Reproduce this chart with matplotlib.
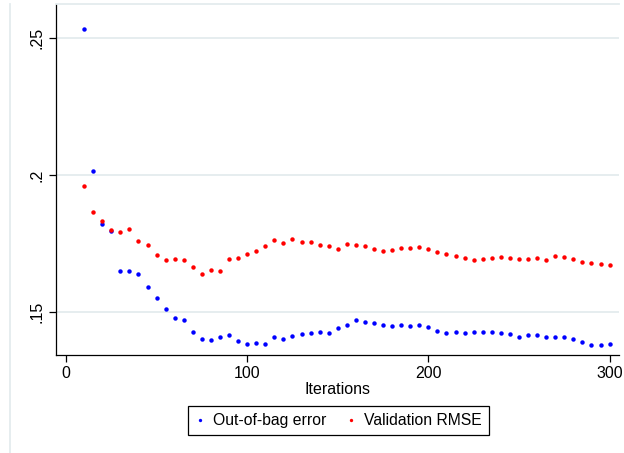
import matplotlib.pyplot as plt
from matplotlib.lines import Line2D
import numpy as np

plt.rcParams['font.family'] = ['Liberation Sans', 'DejaVu Sans']

# Iterations (every 5 from 10 to 300)
iterations = list(range(10, 301, 5))

# Out-of-bag error
oob_error = [0.2531, 0.2015, 0.1820, 0.1795, 0.1650, 0.1649, 0.1639, 0.1593, 0.1551, 0.1512,
             0.1479, 0.1472, 0.1428, 0.1403, 0.1399, 0.1409, 0.1418, 0.1397, 0.1384, 0.1388,
             0.1383, 0.1411, 0.1404, 0.1415, 0.1422, 0.1426, 0.1427, 0.1426, 0.1443, 0.1455,
             0.1472, 0.1464, 0.1460, 0.1454, 0.1451, 0.1454, 0.1449, 0.1453, 0.1447, 0.1431,
             0.1426, 0.1429, 0.1426, 0.1429, 0.1430, 0.1430, 0.1426, 0.1420, 0.1411, 0.1418,
             0.1418, 0.1409, 0.1411, 0.1411, 0.1404, 0.1393, 0.1382, 0.1382, 0.1386]

# Validation RMSE
val_rmse = [0.1961, 0.1865, 0.1831, 0.1801, 0.1791, 0.1803, 0.1760, 0.1745, 0.1709, 0.1689,
            0.1695, 0.1692, 0.1665, 0.1641, 0.1654, 0.1650, 0.1695, 0.1699, 0.1712, 0.1723,
            0.1740, 0.1765, 0.1751, 0.1766, 0.1756, 0.1756, 0.1745, 0.1740, 0.1731, 0.1749,
            0.1745, 0.1743, 0.1732, 0.1724, 0.1728, 0.1733, 0.1735, 0.1738, 0.1731, 0.1721,
            0.1713, 0.1705, 0.1699, 0.1692, 0.1695, 0.1699, 0.1702, 0.1698, 0.1693, 0.1693,
            0.1698, 0.1692, 0.1704, 0.1700, 0.1694, 0.1684, 0.1681, 0.1677, 0.1673]

x_ticks = [0, 100, 200, 300]
y_ticks = [0.15, 0.2, 0.25]
y_labels = ['.15', '.2', '.25']

W, H = 624, 453
fig = plt.figure(figsize=(W / 100, H / 100), dpi=100)
ax = fig.add_axes([56 / W, 1 - 355 / H, (619 - 56) / W, (355 - 4) / H])

grid_col = '#e4ecee'
ax.set_xlim(-5.5, 305.2)
ax.set_ylim(0.13445, 0.26227)
ax.grid(axis='y', color=grid_col, linewidth=1.3)
ax.set_axisbelow(True)

ax.plot(iterations, oob_error, 'o', color='#0000ff', ms=3.2, mew=0, label='Out-of-bag error')
ax.plot(iterations, val_rmse, 'o', color='#ff0000', ms=3.2, mew=0, label='Validation RMSE')

ax.spines['right'].set_visible(False)
ax.spines['top'].set_color(grid_col)
ax.spines['top'].set_linewidth(1.3)
for s in ('left', 'bottom'):
    ax.spines[s].set_linewidth(0.9)

ax.set_xticks(x_ticks)
ax.set_yticks(y_ticks)
ax.set_yticklabels(y_labels, rotation=90, va='center')
ax.tick_params(direction='out', length=5, width=0.9, labelsize=11.5, pad=3)
ax.set_xlabel('Iterations', fontsize=11.5, labelpad=1)

handles = [Line2D([], [], ls='', marker='o', color='#0000ff', ms=2.4, mew=0),
           Line2D([], [], ls='', marker='o', color='#ff0000', ms=2.4, mew=0)]
leg = fig.legend(handles, ['Out-of-bag error', 'Validation RMSE'], loc='center',
                 bbox_to_anchor=(338.5 / W, 1 - 420.7 / H), ncol=2, fontsize=11.3,
                 frameon=True, fancybox=False, edgecolor='black', framealpha=1,
                 handlelength=0.6, handletextpad=0.5, columnspacing=1.3,
                 borderpad=0.45)
leg.get_frame().set_linewidth(0.9)

# thin outer border line on the left
fig.add_artist(Line2D([10 / W, 10 / W], [0, 1 - 4 / H], color=grid_col, lw=1.3,
                      transform=fig.transFigure))

fig.savefig('out.png', dpi=100)
